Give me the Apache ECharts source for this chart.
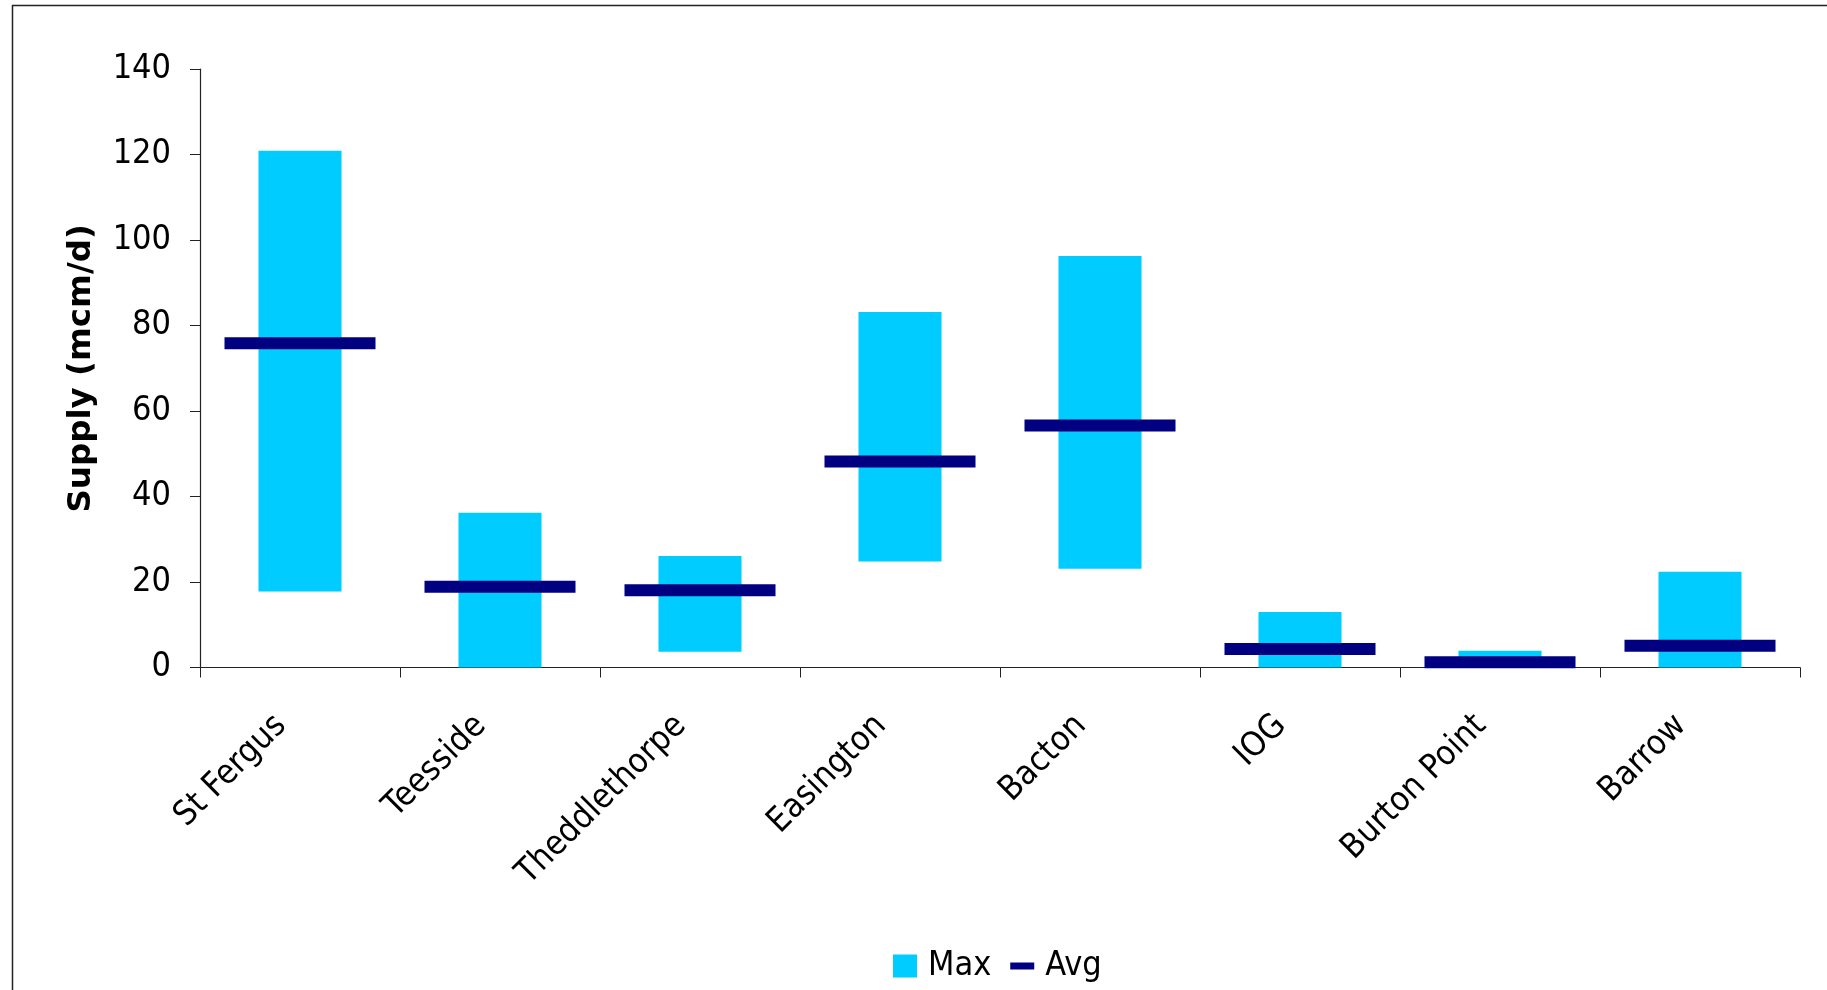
<!DOCTYPE html>
<html>
<head>
<meta charset="utf-8">
<style>
  html, body { margin: 0; padding: 0; background: #ffffff; }
  #chart { width: 1827px; height: 990px; }
</style>
<script src="https://cdn.jsdelivr.net/npm/echarts@6/dist/echarts.min.js"></script>
</head>
<body>
<div id="chart"></div>
<script>
// ---- data ----
const categories = ['St Fergus', 'Teesside', 'Theddlethorpe', 'Easington', 'Bacton', 'IOG', 'Burton Point', 'Barrow'];
const minValues  = [17.8, 0, 3.7, 24.8, 23.1, 0, 0, 0];
const maxValues  = [120.9, 36.2, 26.1, 83.2, 96.3, 13.0, 3.9, 22.4];
const avgValues  = [75.9, 18.9, 18.1, 48.2, 56.6, 4.3, 1.2, 5.1];
const yTicks     = { min: 0, max: 140, interval: 20 };

const FONT = "'DejaVu Sans Condensed', 'DejaVu Sans', sans-serif";
const spanValues = maxValues.map((v, i) => +(v - minValues[i]).toFixed(2));

const chart = echarts.init(document.getElementById('chart'), null, { renderer: 'canvas' });
chart.setOption({
  backgroundColor: '#ffffff',
  animation: false,
  textStyle: { fontFamily: FONT, color: '#000' },
  graphic: [{
    type: 'rect',
    shape: { x: 12.5, y: 5.5, width: 3000, height: 3000 },
    style: { fill: 'none', stroke: '#222', lineWidth: 1.5 },
    silent: true, z: -10
  }],
  grid: { left: 200, right: 27, top: 69.2, bottom: 322.5, containLabel: false },
  legend: {
    left: 888, top: 944,
    itemWidth: 24, itemHeight: 23, itemGap: 19,
    textStyle: { fontFamily: FONT, fontSize: 34, color: '#000', padding: [0, 0, 0, 6] },
    data: [
      { name: 'Max', icon: 'rect' },
      { name: 'Avg', icon: 'path://M0,0L0,0M0,8H24V15H0ZM24,23L24,23' }
    ]
  },
  xAxis: {
    type: 'category',
    data: categories,
    boundaryGap: true,
    axisLine: { lineStyle: { color: '#222', width: 1.2 } },
    axisTick: { show: true, length: 10, alignWithLabel: false, lineStyle: { color: '#222' } },
    axisLabel: { rotate: 45, margin: 34, fontSize: 34, color: '#000', fontFamily: FONT, interval: 0, padding: [0, 27, 0, 0] },
    splitLine: { show: false }
  },
  yAxis: {
    type: 'value',
    min: yTicks.min, max: yTicks.max, interval: yTicks.interval,
    name: 'Supply (mcm/d)',
    nameLocation: 'middle',
    nameGap: 102,
    nameRotate: 90,
    nameTextStyle: { fontFamily: "'DejaVu Sans', sans-serif", fontSize: 32.5, fontWeight: 'bold', color: '#000' },
    axisLine: { show: true, lineStyle: { color: '#222', width: 1.2 } },
    axisTick: { show: true, length: 10, lineStyle: { color: '#222' } },
    axisLabel: { fontSize: 34, color: '#000', margin: 29, fontFamily: FONT },
    splitLine: { show: false }
  },
  series: [
    {
      name: 'base', type: 'bar', stack: 'range', data: minValues,
      barWidth: 83, itemStyle: { color: 'rgba(0,0,0,0)' },
      silent: true, legendHoverLink: false
    },
    {
      name: 'Max', type: 'bar', stack: 'range', data: spanValues,
      barWidth: 83, itemStyle: { color: '#00CCFF' }
    },
    {
      name: 'Avg', type: 'scatter', data: avgValues,
      symbol: 'rect', symbolSize: [151, 12],
      itemStyle: { color: '#000080', opacity: 1 }, z: 5
    }
  ]
});
</script>
</body>
</html>
